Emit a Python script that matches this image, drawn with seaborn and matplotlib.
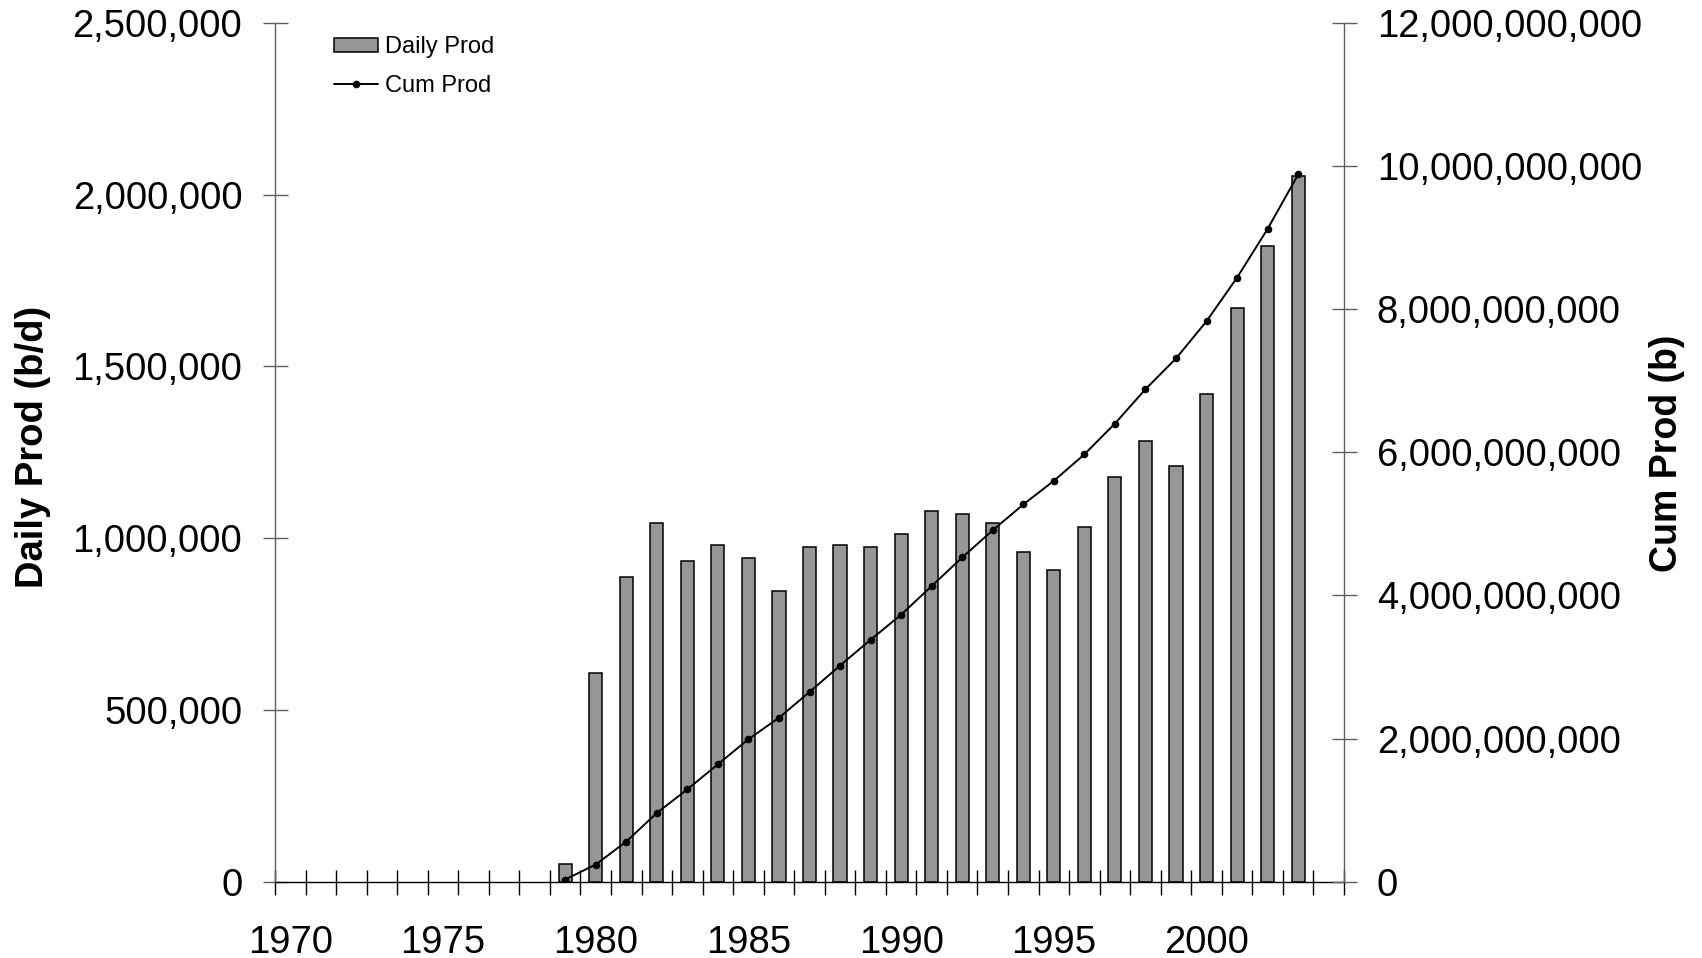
import numpy as np
import pandas as pd
import seaborn as sns
import matplotlib.pyplot as plt
from matplotlib.ticker import StrMethodFormatter, FixedLocator

# Production data
years = [1979, 1980, 1981, 1982, 1983, 1984, 1985, 1986, 1987, 1988, 1989, 1990, 1991,
         1992, 1993, 1994, 1995, 1996, 1997, 1998, 1999, 2000, 2001, 2002, 2003]
daily_prod = [52000, 608000, 886000, 1043000, 933000, 980000, 943000, 845000, 974000,
              980000, 974000, 1012000, 1080000, 1069000, 1043000, 960000, 906000,
              1032000, 1179000, 1284000, 1209000, 1420000, 1670000, 1849000, 2054000]
cum_prod = [0.03e9, 0.24e9, 0.56e9, 0.96e9, 1.29e9, 1.64e9, 1.99e9, 2.29e9, 2.65e9,
            3.02e9, 3.38e9, 3.73e9, 4.13e9, 4.53e9, 4.91e9, 5.27e9, 5.60e9, 5.97e9,
            6.40e9, 6.88e9, 7.31e9, 7.83e9, 8.44e9, 9.12e9, 9.88e9]

# Axis ticks
year_labels = [1970, 1975, 1980, 1985, 1990, 1995, 2000]
left_ticks = [0, 500000, 1000000, 1500000, 2000000, 2500000]
right_ticks = [0, 2e9, 4e9, 6e9, 8e9, 10e9, 12e9]

df = pd.DataFrame({'Year': years, 'DailyProd': daily_prod, 'CumProd': cum_prod})

sns.set_style('ticks')
plt.rcParams['font.family'] = ['Liberation Sans', 'DejaVu Sans']
plt.rcParams['text.color'] = 'black'
plt.rcParams['xtick.labelcolor'] = 'black'
plt.rcParams['ytick.labelcolor'] = 'black'

fig = plt.figure(figsize=(17.02, 9.58), dpi=100)
ax = fig.add_axes([275 / 1702, 1 - 881.7 / 958, (1344 - 275) / 1702, (881.7 - 22.7) / 958])
ax2 = ax.twinx()

# Bars: daily production
sns.barplot(data=df, x='Year', y='DailyProd', native_scale=True, width=0.43,
            color='#969696', edgecolor='black', linewidth=1.1, saturation=1,
            label='Daily Prod', ax=ax)

# Line: cumulative production
sns.lineplot(data=df, x='Year', y='CumProd', color='black', linewidth=1.4,
             marker='o', markersize=5.5, markeredgewidth=0, label='Cum Prod', ax=ax2)

for a in (ax, ax2):
    if a.get_legend() is not None:
        a.get_legend().remove()

# Category style x axis: ticks between years, labels centered on years
ax.set_xlim(1969.5, 2004.5)
ax.xaxis.set_major_locator(FixedLocator(year_labels))
ax.xaxis.set_minor_locator(FixedLocator(np.arange(1969.5, 2005, 1.0)))
ax.set_xticklabels([str(y) for y in year_labels])
ax.tick_params(axis='x', which='major', length=0, pad=31, labelsize=27.5)
ax.tick_params(axis='x', which='minor', direction='inout', length=18, width=1.0, color='black')

ax.set_ylim(0, 2500000)
ax.set_yticks(left_ticks)
ax.yaxis.set_major_formatter(StrMethodFormatter('{x:,.0f}'))
ax.tick_params(axis='y', direction='inout', length=18, width=1.0, color='#606060',
               pad=14.5, labelsize=27.5)

ax2.set_ylim(0, 12e9)
ax2.set_yticks(right_ticks)
ax2.yaxis.set_major_formatter(StrMethodFormatter('{x:,.0f}'))
ax2.tick_params(axis='y', direction='inout', length=18, width=1.0, color='#606060',
                pad=14.5, labelsize=27.5)

ax.set_xlabel('')
ax.set_ylabel('')
ax2.set_ylabel('')

# Spines
ax.spines['top'].set_visible(False)
ax.spines['right'].set_visible(False)
ax.spines['left'].set_color('#606060')
ax.spines['bottom'].set_color('black')
for s in ('top', 'left', 'bottom'):
    ax2.spines[s].set_visible(False)
ax2.spines['right'].set_color('#606060')
for a in (ax, ax2):
    for s in a.spines.values():
        s.set_linewidth(1.0)

# Axis titles
fig.text(33.5 / 1702, 1 - 446.5 / 958, 'Daily Prod (b/d)', rotation=90, ha='center',
         va='center', fontsize=27.5, fontweight='bold')
fig.text(1667 / 1702, 1 - 453 / 958, 'Cum Prod (b)', rotation=90, ha='center',
         va='center', fontsize=27, fontweight='bold')

# Legend, no frame
h1, l1 = ax.get_legend_handles_labels()
h2, l2 = ax2.get_legend_handles_labels()
ax2.legend(h1 + h2, l1 + l2, loc='upper left', bbox_to_anchor=(334 / 1702, 1 - 36.5 / 958),
           bbox_transform=fig.transFigure, frameon=False, fontsize=17, borderpad=0,
           borderaxespad=0, labelspacing=0.7, handletextpad=0.3, handlelength=1.85,
           handleheight=0.55)

plt.savefig('out.png', dpi=100)
